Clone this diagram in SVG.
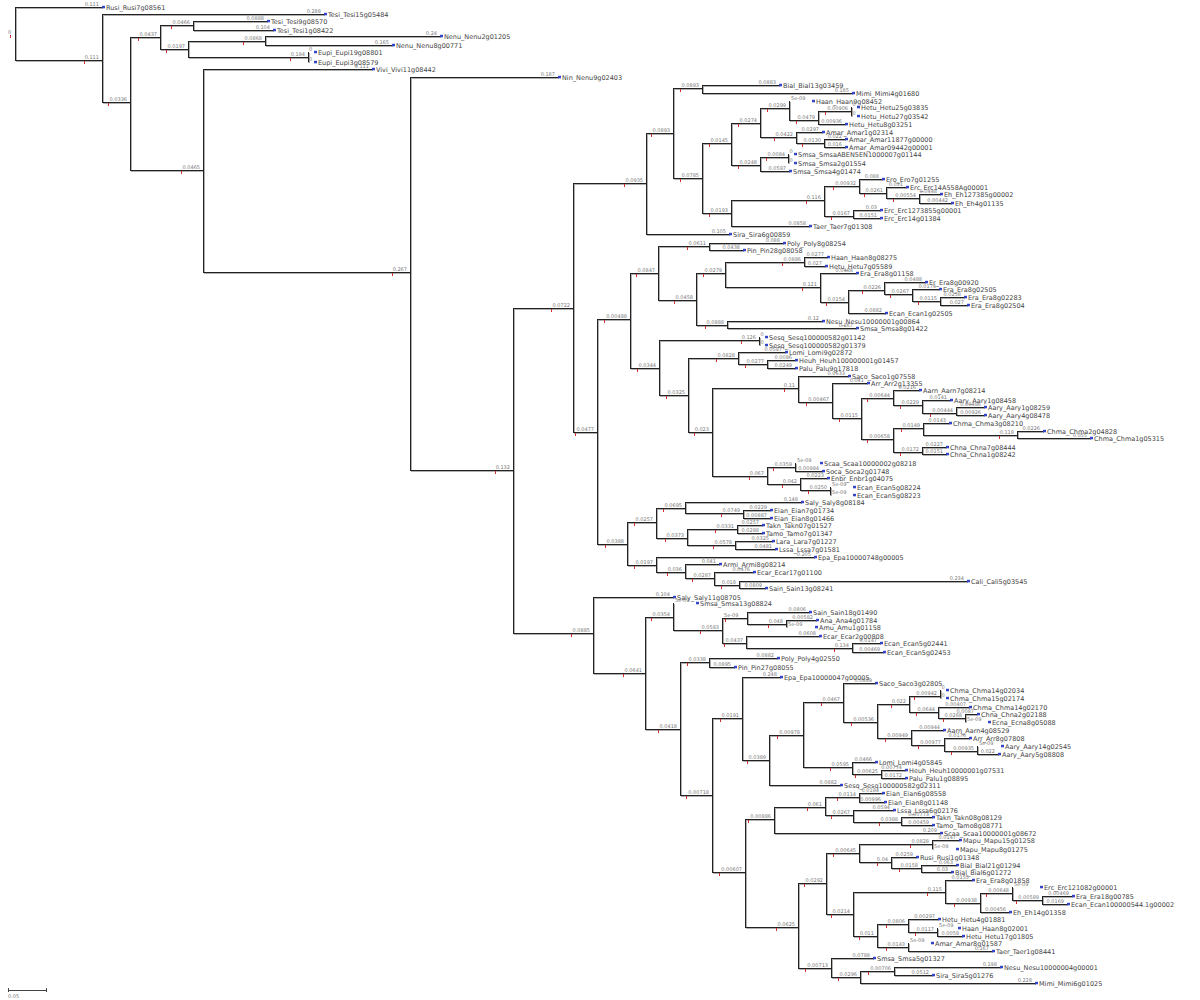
<svg xmlns="http://www.w3.org/2000/svg" xmlns:xlink="http://www.w3.org/1999/xlink" width="1200" height="1000" viewBox="0 0 1200 1000">
<style>
text{font-family:"DejaVu Sans","Liberation Sans",sans-serif}
.b{font-size:5px;fill:#777;text-anchor:end}
.z{font-size:5px;fill:#777}
.n{font-size:6.5px;fill:#444}
</style>
<defs>
<rect id="mk" width="3" height="2.5" fill="#3545c8"/>
<rect id="rt" width="1" height="3" fill="#d03030"/>
</defs>
<rect width="1200" height="1000" fill="#fff"/>
<g id="connectors" fill="none" shape-rendering="crispEdges">
<use href="#edges" transform="translate(1,1)" stroke="#b0b0b0" stroke-width="1.3"/>
<g stroke="#222" stroke-width="1">
<g id="edges">
<path d="M15 7V60M15 7H102M15 60H102M102 14V102M102 14H324M102 102H130M130 37V170M130 37H160M130 170H203M160 25V49M160 25H193M160 49H188M193 21V30M193 21H267M193 30H273M188 41V57M188 41H265M188 57H308M265 36V45M265 36H440M265 45H392M308 52V62M203 69V272M203 69H372M203 272H410M410 77V470M410 77H558M410 470H513M513 308V633M513 308H573M513 633H593M573 183V432M573 183H646M573 432H597"/>
<path d="M646 133V234M646 133H673M646 234H729M673 88V178M673 88H702M673 178H702M702 85V93M702 85H779M702 93H852M702 143V213M702 143H731M702 213H731M731 123V165M731 123H760M731 165H760M760 108V137M760 108H789M760 137H796M789 101V120M789 120H818M818 111V124M818 111H851M818 124H845M851 107V116M796 132V143M796 132H822M796 143H824M824 139V147M824 139H845M824 147H845M760 157V171M760 157H788M760 171H789M788 154V163M731 200V226M731 200H824M731 226H809M824 186V216M824 186H859M824 216H853M859 179V193M859 179H882M859 193H886M886 187V198M886 187H906M886 198H919M919 194V203M919 194H940M919 203H951M853 210V218M853 210H880M853 218H880"/>
<path d="M597 319V544M597 319H630M597 544H627M630 273V368M630 273H658M630 368H659M658 246V300M658 246H709M658 300H696M709 243V250M709 243H783M709 250H743M696 273V325M696 273H725M696 325H727M725 262V287M725 262H804M725 287H820M804 257V266M804 257H827M804 266H825M820 273V302M820 273H856M820 302H848M848 290V313M848 290H884M848 313H885M884 282V294M884 282H925M884 294H912M912 289V301M912 289H939M912 301H940M940 297V305M940 297H964M940 305H967M727 321V328M727 321H822M727 328H856M659 340V395M659 340H759M659 395H688M759 337V345M688 358V432M688 358H738M688 432H712M738 352V364M738 352H785M738 364H767M767 360V368M767 360H795M767 368H795M712 388V476M712 388H798M712 476H767M798 376V402M798 376H848M798 402H832M832 383V418M832 383H867M832 418H861M861 398V439M861 398H893M861 439H893M893 390V405M893 390H919M893 405H922M922 400V413M922 400H950M922 413H956M956 407V415M956 407H984M956 415H984M893 428V452M893 428H923M893 452H922M923 423V435M923 423H949M923 435H1017M1017 431V438M1017 431H1043M1017 438H1090M922 447V454M922 447H946M922 454H946M767 467V484M767 467H795M767 484H800M795 463V471M795 471H822M800 478V490M800 478H827M800 490H830M830 487V495"/>
<path d="M627 522V565M627 522H656M627 565H656M656 508V538M656 508H685M656 538H687M685 502V513M685 502H801M685 513H743M743 510V518M743 510H770M743 518H770M687 529V545M687 529H737M687 545H735M737 525V533M737 525H762M737 533H762M735 541V549M735 541H772M735 549H775M656 557V572M656 557H814M656 572H685M685 564V578M685 564H719M685 578H714M714 572V585M714 572H753M714 585H739M739 581V588M739 581H967M739 588H765"/>
<path d="M593 597V673M593 597H673M593 673H645M645 617V729M645 617H673M645 729H680M673 603V630M673 630H722M722 618V643M722 618H747M722 643H746M747 612V624M747 612H809M747 624H786M786 620V627M786 620H816M746 636V648M746 636H819M746 648H852M852 643V652M852 643H880M852 652H883M680 662V795M680 662H709M680 795H712M709 658V667M709 658H777M709 667H734"/>
<path d="M712 718V872M712 718H742M712 872H745M742 677V760M742 677H780M742 760H769M769 735V785M769 735H803M769 785H840M803 702V767M803 702H843M803 767H852M843 683V722M843 683H875M843 722H877M877 704V738M877 704H909M877 738H911M909 696V712M909 696H940M909 712H938M940 690V698M938 707V718M938 707H969M938 718H965M965 714V722M965 714H977M911 730V745M911 730H943M911 745H944M944 738V751M944 738H969M944 751H977M977 746V754M977 754H998M852 762V774M852 762H875M852 774H881M881 770V778M881 770H905M881 778H905"/>
<path d="M745 819V927M745 819H774M745 927H798M774 807V833M774 807H825M774 833H940M825 797V815M825 797H859M825 815H853M859 793V802M859 793H882M859 802H884M853 810V822M853 810H893M853 822H901M901 817V825M901 817H932M901 825H932M798 883V968M798 883H826M798 968H831M826 853V914M826 853H859M826 914H853M859 844V862M859 844H932M859 862H891M932 840V849M932 840H959M891 857V868M891 857H916M891 868H921M921 865V872M921 865H956M921 872H951M853 892V936M853 892H945M853 936H877M945 880V903M945 880H972M945 903H980M980 893V912M980 893H1012M980 912H1009M1012 887V900M1012 900H1042M1042 896V904M1042 896H1072M1042 904H1067M877 924V947M877 924H908M877 947H908M908 919V932M908 919H938M908 932H937M937 928V936M937 936H962M908 943V951M908 951H992M831 958V977M831 958H873M831 977H860M860 971V983M860 971H894M860 983H1035M894 967V975M894 967H1000M894 975H932"/>
</g>
</g>
</g>
<g id="nodes">
<g id="i0"><text class="z" x="8" y="34">0</text><use href="#rt" x="10" y="35"/></g>
<g id="i1"><text class="b" x="99" y="58.5">0.111</text><use href="#rt" x="84" y="61"/></g>
<g id="i2"><text class="b" x="127" y="100.5">0.0336</text><use href="#rt" x="108" y="103"/></g>
<g id="i3"><text class="b" x="157" y="35.5">0.0437</text><use href="#rt" x="138" y="38"/></g>
<g id="i4"><text class="b" x="200" y="168.5">0.0465</text><use href="#rt" x="181" y="171"/></g>
<g id="i5"><text class="b" x="190" y="23.5">0.0466</text><use href="#rt" x="171" y="26"/></g>
<g id="i6"><text class="b" x="185" y="47.5">0.0197</text><use href="#rt" x="166" y="50"/></g>
<g id="i7"><text class="b" x="262" y="39.5">0.0868</text><use href="#rt" x="243" y="42"/></g>
<g id="i8"><text class="b" x="305" y="55.5">0.194</text><use href="#rt" x="290" y="58"/></g>
<g id="i9"><text class="b" x="407" y="270.5">0.267</text><use href="#rt" x="392" y="273"/></g>
<g id="i10"><text class="b" x="510" y="468.5">0.132</text><use href="#rt" x="495" y="471"/></g>
<g id="i11"><text class="b" x="570" y="306.5">0.0722</text><use href="#rt" x="551" y="309"/></g>
<g id="i12"><text class="b" x="590" y="631.5">0.0885</text><use href="#rt" x="571" y="634"/></g>
<g id="i13"><text class="b" x="643" y="181.5">0.0935</text><use href="#rt" x="624" y="184"/></g>
<g id="i14"><text class="b" x="594" y="430.5">0.0477</text><use href="#rt" x="575" y="433"/></g>
<g id="i15"><text class="b" x="670" y="131.5">0.0893</text><use href="#rt" x="651" y="134"/></g>
<g id="i16"><text class="b" x="699" y="86.5">0.0893</text><use href="#rt" x="680" y="89"/></g>
<g id="i17"><text class="b" x="699" y="176.5">0.0785</text><use href="#rt" x="680" y="179"/></g>
<g id="i18"><text class="b" x="728" y="141.5">0.0145</text><use href="#rt" x="709" y="144"/></g>
<g id="i19"><text class="b" x="728" y="211.5">0.0193</text><use href="#rt" x="709" y="214"/></g>
<g id="i20"><text class="b" x="757" y="121.5">0.0274</text><use href="#rt" x="738" y="124"/></g>
<g id="i21"><text class="b" x="757" y="163.5">0.0248</text><use href="#rt" x="738" y="166"/></g>
<g id="i22"><text class="b" x="786" y="106.5">0.0299</text><use href="#rt" x="767" y="109"/></g>
<g id="i23"><text class="b" x="793" y="135.5">0.0422</text><use href="#rt" x="774" y="138"/></g>
<g id="i24"><text class="b" x="815" y="118.5">0.0479</text><use href="#rt" x="796" y="121"/></g>
<g id="i25"><text class="b" x="848" y="109.5">0.00906</text><use href="#rt" x="825" y="112"/></g>
<g id="i26"><text class="b" x="821" y="141.5">0.0130</text><use href="#rt" x="802" y="144"/></g>
<g id="i27"><text class="b" x="785" y="155.5">0.0084</text><use href="#rt" x="766" y="158"/></g>
<g id="i28"><text class="b" x="821" y="198.5">0.116</text><use href="#rt" x="806" y="201"/></g>
<g id="i29"><text class="b" x="856" y="184.5">0.00932</text><use href="#rt" x="833" y="187"/></g>
<g id="i30"><text class="b" x="850" y="214.5">0.0167</text><use href="#rt" x="831" y="217"/></g>
<g id="i31"><text class="b" x="883" y="191.5">0.0261</text><use href="#rt" x="864" y="194"/></g>
<g id="i32"><text class="b" x="916" y="196.5">0.00554</text><use href="#rt" x="893" y="199"/></g>
<g id="i33"><text class="b" x="627" y="317.5">0.00488</text><use href="#rt" x="604" y="320"/></g>
<g id="i34"><text class="b" x="624" y="542.5">0.0388</text><use href="#rt" x="605" y="545"/></g>
<g id="i35"><text class="b" x="655" y="271.5">0.0847</text><use href="#rt" x="636" y="274"/></g>
<g id="i36"><text class="b" x="656" y="366.5">0.0344</text><use href="#rt" x="637" y="369"/></g>
<g id="i37"><text class="b" x="706" y="244.5">0.0611</text><use href="#rt" x="687" y="247"/></g>
<g id="i38"><text class="b" x="693" y="298.5">0.0458</text><use href="#rt" x="674" y="301"/></g>
<g id="i39"><text class="b" x="722" y="271.5">0.0279</text><use href="#rt" x="703" y="274"/></g>
<g id="i40"><text class="b" x="724" y="323.5">0.0888</text><use href="#rt" x="705" y="326"/></g>
<g id="i41"><text class="b" x="801" y="260.5">0.0886</text><use href="#rt" x="782" y="263"/></g>
<g id="i42"><text class="b" x="817" y="285.5">0.121</text><use href="#rt" x="802" y="288"/></g>
<g id="i43"><text class="b" x="845" y="300.5">0.0154</text><use href="#rt" x="826" y="303"/></g>
<g id="i44"><text class="b" x="881" y="288.5">0.0226</text><use href="#rt" x="862" y="291"/></g>
<g id="i45"><text class="b" x="909" y="292.5">0.0267</text><use href="#rt" x="890" y="295"/></g>
<g id="i46"><text class="b" x="937" y="299.5">0.0115</text><use href="#rt" x="918" y="302"/></g>
<g id="i47"><text class="b" x="756" y="338.5">0.126</text><use href="#rt" x="741" y="341"/></g>
<g id="i48"><text class="b" x="685" y="393.5">0.0325</text><use href="#rt" x="666" y="396"/></g>
<g id="i49"><text class="b" x="735" y="356.5">0.0828</text><use href="#rt" x="716" y="359"/></g>
<g id="i50"><text class="b" x="709" y="430.5">0.023</text><use href="#rt" x="694" y="433"/></g>
<g id="i51"><text class="b" x="764" y="362.5">0.0277</text><use href="#rt" x="745" y="365"/></g>
<g id="i52"><text class="b" x="795" y="386.5">0.11</text><use href="#rt" x="784" y="389"/></g>
<g id="i53"><text class="b" x="764" y="474.5">0.067</text><use href="#rt" x="749" y="477"/></g>
<g id="i54"><text class="b" x="829" y="400.5">0.00467</text><use href="#rt" x="806" y="403"/></g>
<g id="i55"><text class="b" x="858" y="416.5">0.0115</text><use href="#rt" x="839" y="419"/></g>
<g id="i56"><text class="b" x="890" y="396.5">0.00644</text><use href="#rt" x="867" y="399"/></g>
<g id="i57"><text class="b" x="890" y="437.5">0.00658</text><use href="#rt" x="867" y="440"/></g>
<g id="i58"><text class="b" x="919" y="403.5">0.0229</text><use href="#rt" x="900" y="406"/></g>
<g id="i59"><text class="b" x="953" y="411.5">0.00444</text><use href="#rt" x="930" y="414"/></g>
<g id="i60"><text class="b" x="920" y="426.5">0.0149</text><use href="#rt" x="901" y="429"/></g>
<g id="i61"><text class="b" x="919" y="450.5">0.0172</text><use href="#rt" x="900" y="453"/></g>
<g id="i62"><text class="b" x="1014" y="433.5">0.118</text><use href="#rt" x="999" y="436"/></g>
<g id="i63"><text class="b" x="792" y="465.5">0.0359</text><use href="#rt" x="773" y="468"/></g>
<g id="i64"><text class="b" x="797" y="482.5">0.042</text><use href="#rt" x="782" y="485"/></g>
<g id="i65"><text class="b" x="827" y="488.5">0.0250</text><use href="#rt" x="808" y="491"/></g>
<g id="i66"><text class="b" x="653" y="520.5">0.0257</text><use href="#rt" x="634" y="523"/></g>
<g id="i67"><text class="b" x="653" y="563.5">0.0197</text><use href="#rt" x="634" y="566"/></g>
<g id="i68"><text class="b" x="682" y="506.5">0.0695</text><use href="#rt" x="663" y="509"/></g>
<g id="i69"><text class="b" x="684" y="536.5">0.0373</text><use href="#rt" x="665" y="539"/></g>
<g id="i70"><text class="b" x="740" y="511.5">0.0749</text><use href="#rt" x="721" y="514"/></g>
<g id="i71"><text class="b" x="734" y="527.5">0.0331</text><use href="#rt" x="715" y="530"/></g>
<g id="i72"><text class="b" x="732" y="543.5">0.0578</text><use href="#rt" x="713" y="546"/></g>
<g id="i73"><text class="b" x="682" y="570.5">0.036</text><use href="#rt" x="667" y="573"/></g>
<g id="i74"><text class="b" x="711" y="576.5">0.0287</text><use href="#rt" x="692" y="579"/></g>
<g id="i75"><text class="b" x="736" y="583.5">0.018</text><use href="#rt" x="721" y="586"/></g>
<g id="i76"><text class="b" x="642" y="671.5">0.0641</text><use href="#rt" x="623" y="674"/></g>
<g id="i77"><text class="b" x="670" y="615.5">0.0354</text><use href="#rt" x="651" y="618"/></g>
<g id="i78"><text class="b" x="677" y="727.5">0.0418</text><use href="#rt" x="658" y="730"/></g>
<g id="i79"><text class="b" x="719" y="628.5">0.0583</text><use href="#rt" x="700" y="631"/></g>
<g id="i80"><text class="z" x="724" y="616.5">5e-09</text><use href="#rt" x="725" y="619"/></g>
<g id="i81"><text class="b" x="743" y="641.5">0.0437</text><use href="#rt" x="724" y="644"/></g>
<g id="i82"><text class="b" x="783" y="622.5">0.048</text><use href="#rt" x="768" y="625"/></g>
<g id="i83"><text class="b" x="849" y="646.5">0.134</text><use href="#rt" x="834" y="649"/></g>
<g id="i84"><text class="b" x="706" y="660.5">0.0338</text><use href="#rt" x="687" y="663"/></g>
<g id="i85"><text class="b" x="709" y="793.5">0.00718</text><use href="#rt" x="686" y="796"/></g>
<g id="i86"><text class="b" x="739" y="716.5">0.0191</text><use href="#rt" x="720" y="719"/></g>
<g id="i87"><text class="b" x="742" y="870.5">0.00607</text><use href="#rt" x="719" y="873"/></g>
<g id="i88"><text class="b" x="766" y="758.5">0.0389</text><use href="#rt" x="747" y="761"/></g>
<g id="i89"><text class="b" x="800" y="733.5">0.00978</text><use href="#rt" x="777" y="736"/></g>
<g id="i90"><text class="b" x="840" y="700.5">0.0467</text><use href="#rt" x="821" y="703"/></g>
<g id="i91"><text class="b" x="849" y="765.5">0.0595</text><use href="#rt" x="830" y="768"/></g>
<g id="i92"><text class="b" x="874" y="720.5">0.00536</text><use href="#rt" x="851" y="723"/></g>
<g id="i93"><text class="b" x="906" y="702.5">0.022</text><use href="#rt" x="891" y="705"/></g>
<g id="i94"><text class="b" x="908" y="736.5">0.00949</text><use href="#rt" x="885" y="739"/></g>
<g id="i95"><text class="b" x="937" y="694.5">0.00942</text><use href="#rt" x="914" y="697"/></g>
<g id="i96"><text class="b" x="935" y="710.5">0.0644</text><use href="#rt" x="916" y="713"/></g>
<g id="i97"><text class="b" x="962" y="716.5">0.0268</text><use href="#rt" x="943" y="719"/></g>
<g id="i98"><text class="b" x="941" y="743.5">0.00977</text><use href="#rt" x="918" y="746"/></g>
<g id="i99"><text class="b" x="974" y="749.5">0.00935</text><use href="#rt" x="951" y="752"/></g>
<g id="i100"><text class="b" x="878" y="772.5">0.00625</text><use href="#rt" x="855" y="775"/></g>
<g id="i101"><text class="b" x="771" y="817.5">0.00886</text><use href="#rt" x="748" y="820"/></g>
<g id="i102"><text class="b" x="795" y="925.5">0.0625</text><use href="#rt" x="776" y="928"/></g>
<g id="i103"><text class="b" x="822" y="805.5">0.061</text><use href="#rt" x="807" y="808"/></g>
<g id="i104"><text class="b" x="856" y="795.5">0.0114</text><use href="#rt" x="837" y="798"/></g>
<g id="i105"><text class="b" x="850" y="813.5">0.0267</text><use href="#rt" x="831" y="816"/></g>
<g id="i106"><text class="b" x="898" y="820.5">0.0388</text><use href="#rt" x="879" y="823"/></g>
<g id="i107"><text class="b" x="823" y="881.5">0.0292</text><use href="#rt" x="804" y="884"/></g>
<g id="i108"><text class="b" x="828" y="966.5">0.00713</text><use href="#rt" x="805" y="969"/></g>
<g id="i109"><text class="b" x="856" y="851.5">0.00645</text><use href="#rt" x="833" y="854"/></g>
<g id="i110"><text class="b" x="850" y="912.5">0.0214</text><use href="#rt" x="831" y="915"/></g>
<g id="i111"><text class="b" x="929" y="842.5">0.0828</text><use href="#rt" x="910" y="845"/></g>
<g id="i112"><text class="b" x="888" y="860.5">0.04</text><use href="#rt" x="877" y="863"/></g>
<g id="i113"><text class="b" x="918" y="866.5">0.0158</text><use href="#rt" x="899" y="869"/></g>
<g id="i114"><text class="b" x="942" y="890.5">0.115</text><use href="#rt" x="927" y="893"/></g>
<g id="i115"><text class="b" x="874" y="934.5">0.011</text><use href="#rt" x="859" y="937"/></g>
<g id="i116"><text class="b" x="977" y="901.5">0.00938</text><use href="#rt" x="954" y="904"/></g>
<g id="i117"><text class="b" x="1009" y="891.5">0.00648</text><use href="#rt" x="986" y="894"/></g>
<g id="i118"><text class="b" x="1039" y="898.5">0.00589</text><use href="#rt" x="1016" y="901"/></g>
<g id="i119"><text class="b" x="905" y="922.5">0.0806</text><use href="#rt" x="886" y="925"/></g>
<g id="i120"><text class="b" x="905" y="945.5">0.0143</text><use href="#rt" x="886" y="948"/></g>
<g id="i121"><text class="b" x="934" y="930.5">0.0117</text><use href="#rt" x="915" y="933"/></g>
<g id="i122"><text class="b" x="857" y="975.5">0.0296</text><use href="#rt" x="838" y="978"/></g>
<g id="i123"><text class="b" x="891" y="969.5">0.00706</text><use href="#rt" x="868" y="972"/></g>
</g>
<g id="leaves">
<g id="t1"><text class="b" x="99" y="5.5">0.111</text><use href="#mk" x="102" y="5.8"/><text class="n" x="106" y="9.5">Rusi_Rusi7g08561</text></g>
<g id="t2"><text class="b" x="321" y="12.5">0.288</text><use href="#mk" x="324" y="12.8"/><text class="n" x="328" y="16.5">Tesi_Tesi15g05484</text></g>
<g id="t3"><text class="b" x="264" y="19.5">0.0888</text><use href="#mk" x="267" y="19.8"/><text class="n" x="271" y="23.5">Tesi_Tesi9g08570</text></g>
<g id="t4"><text class="b" x="270" y="28.5">0.104</text><use href="#mk" x="273" y="28.8"/><text class="n" x="277" y="32.5">Tesi_Tesi1g08422</text></g>
<g id="t5"><text class="b" x="437" y="34.5">0.24</text><use href="#mk" x="440" y="34.8"/><text class="n" x="444" y="38.5">Nenu_Nenu2g01205</text></g>
<g id="t6"><text class="b" x="389" y="43.5">0.165</text><use href="#mk" x="392" y="43.8"/><text class="n" x="396" y="47.5">Nenu_Nenu8g00771</text></g>
<g id="t7"><text class="z" x="309" y="50.5">0</text><use href="#mk" x="314" y="50.8"/><text class="n" x="318" y="54.5">Eupi_Eupi19g08801</text></g>
<g id="t8"><text class="z" x="309" y="60.5">0</text><use href="#mk" x="314" y="60.8"/><text class="n" x="318" y="64.5">Eupi_Eupi3g08579</text></g>
<g id="t9"><text class="b" x="369" y="67.5">0.111</text><use href="#mk" x="372" y="67.8"/><text class="n" x="376" y="71.5">Vivi_Vivi11g08442</text></g>
<g id="t10"><text class="b" x="555" y="75.5">0.187</text><use href="#mk" x="558" y="75.8"/><text class="n" x="562" y="79.5">Nin_Nenu9g02403</text></g>
<g id="t11"><text class="b" x="776" y="83.5">0.0883</text><use href="#mk" x="779" y="83.8"/><text class="n" x="783" y="87.5">Bial_Bial13g03459</text></g>
<g id="t12"><text class="b" x="849" y="91.5">0.185</text><use href="#mk" x="852" y="91.8"/><text class="n" x="856" y="95.5">Mimi_Mimi4g01680</text></g>
<g id="t13"><text class="z" x="791" y="99.5">5e-09</text><use href="#mk" x="812" y="99.8"/><text class="n" x="816" y="103.5">Haan_Haan9g08452</text></g>
<g id="t14"><text class="z" x="852.5" y="105.5">0</text><use href="#mk" x="857" y="105.8"/><text class="n" x="861" y="109.5">Hetu_Hetu25g03835</text></g>
<g id="t15"><text class="z" x="852.5" y="114.5">0</text><use href="#mk" x="857" y="114.8"/><text class="n" x="861" y="118.5">Hetu_Hetu27g03542</text></g>
<g id="t16"><text class="b" x="842" y="122.5">0.00936</text><use href="#mk" x="845" y="122.8"/><text class="n" x="849" y="126.5">Hetu_Hetu8g03251</text></g>
<g id="t17"><text class="b" x="819" y="130.5">0.0297</text><use href="#mk" x="822" y="130.8"/><text class="n" x="826" y="134.5">Amar_Amar1g02314</text></g>
<g id="t18"><text class="b" x="842" y="137.5">0.022</text><use href="#mk" x="845" y="137.8"/><text class="n" x="849" y="141.5">Amar_Amar11877g00000</text></g>
<g id="t19"><text class="b" x="842" y="145.5">0.016</text><use href="#mk" x="845" y="145.8"/><text class="n" x="849" y="149.5">Amar_Amar09442g00001</text></g>
<g id="t20"><text class="z" x="789.5" y="152.5">0</text><use href="#mk" x="794" y="152.8"/><text class="n" x="798" y="156.5">Smsa_SmsaABEN5EN1000007g01144</text></g>
<g id="t21"><text class="z" x="789.5" y="161.5">0</text><use href="#mk" x="794" y="161.8"/><text class="n" x="798" y="165.5">Smsa_Smsa2g01554</text></g>
<g id="t22"><text class="b" x="786" y="169.5">0.0597</text><use href="#mk" x="789" y="169.8"/><text class="n" x="793" y="173.5">Smsa_Smsa4g01474</text></g>
<g id="t23"><text class="b" x="879" y="177.5">0.088</text><use href="#mk" x="882" y="177.8"/><text class="n" x="886" y="181.5">Ero_Ero7g01255</text></g>
<g id="t24"><text class="b" x="903" y="185.5">0.031</text><use href="#mk" x="906" y="185.8"/><text class="n" x="910" y="189.5">Erc_Erc14A558Ag00001</text></g>
<g id="t25"><text class="b" x="937" y="192.5">0.0448</text><use href="#mk" x="940" y="192.8"/><text class="n" x="944" y="196.5">Eh_Eh127385g00002</text></g>
<g id="t26"><text class="b" x="948" y="201.5">0.00442</text><use href="#mk" x="951" y="201.8"/><text class="n" x="955" y="205.5">Eh_Eh4g01135</text></g>
<g id="t27"><text class="b" x="877" y="208.5">0.03</text><use href="#mk" x="880" y="208.8"/><text class="n" x="884" y="212.5">Erc_Erc1273855g00001</text></g>
<g id="t28"><text class="b" x="877" y="216.5">0.0151</text><use href="#mk" x="880" y="216.8"/><text class="n" x="884" y="220.5">Erc_Erc14g01384</text></g>
<g id="t29"><text class="b" x="806" y="224.5">0.0858</text><use href="#mk" x="809" y="224.8"/><text class="n" x="813" y="228.5">Taer_Taer7g01308</text></g>
<g id="t30"><text class="b" x="726" y="232.5">0.105</text><use href="#mk" x="729" y="232.8"/><text class="n" x="733" y="236.5">Sira_Sira6g00859</text></g>
<g id="t31"><text class="b" x="780" y="241.5">0.088</text><use href="#mk" x="783" y="241.8"/><text class="n" x="787" y="245.5">Poly_Poly8g08254</text></g>
<g id="t32"><text class="b" x="740" y="248.5">0.0438</text><use href="#mk" x="743" y="248.8"/><text class="n" x="747" y="252.5">Pin_Pin28g08058</text></g>
<g id="t33"><text class="b" x="824" y="255.5">0.0277</text><use href="#mk" x="827" y="255.8"/><text class="n" x="831" y="259.5">Haan_Haan8g08275</text></g>
<g id="t34"><text class="b" x="822" y="264.5">0.027</text><use href="#mk" x="825" y="264.8"/><text class="n" x="829" y="268.5">Hetu_Hetu7g05589</text></g>
<g id="t35"><text class="b" x="853" y="271.5">0.0488</text><use href="#mk" x="856" y="271.8"/><text class="n" x="860" y="275.5">Era_Era8g01158</text></g>
<g id="t36"><text class="b" x="922" y="280.5">0.0488</text><use href="#mk" x="925" y="280.8"/><text class="n" x="929" y="284.5">Er_Era8g00920</text></g>
<g id="t37"><text class="b" x="936" y="287.5">0.0174</text><use href="#mk" x="939" y="287.8"/><text class="n" x="943" y="291.5">Era_Era8g02505</text></g>
<g id="t38"><text class="b" x="961" y="295.5">0.0258</text><use href="#mk" x="964" y="295.8"/><text class="n" x="968" y="299.5">Era_Era8g02283</text></g>
<g id="t39"><text class="b" x="964" y="303.5">0.027</text><use href="#mk" x="967" y="303.8"/><text class="n" x="971" y="307.5">Era_Era8g02504</text></g>
<g id="t40"><text class="b" x="882" y="311.5">0.0882</text><use href="#mk" x="885" y="311.8"/><text class="n" x="889" y="315.5">Ecan_Ecan1g02505</text></g>
<g id="t41"><text class="b" x="819" y="319.5">0.12</text><use href="#mk" x="822" y="319.8"/><text class="n" x="826" y="323.5">Nesu_Nesu10000001g00864</text></g>
<g id="t42"><text class="b" x="853" y="326.5">0.167</text><use href="#mk" x="856" y="326.8"/><text class="n" x="860" y="330.5">Smsa_Smsa8g01422</text></g>
<g id="t43"><text class="z" x="760.5" y="335.5">0</text><use href="#mk" x="765" y="335.8"/><text class="n" x="769" y="339.5">Sesq_Sesq100000582g01142</text></g>
<g id="t44"><text class="z" x="760.5" y="343.5">0</text><use href="#mk" x="765" y="343.8"/><text class="n" x="769" y="347.5">Sesq_Sesq100000582g01379</text></g>
<g id="t45"><text class="b" x="782" y="350.5">0.0587</text><use href="#mk" x="785" y="350.8"/><text class="n" x="789" y="354.5">Lomi_Lomi9g02872</text></g>
<g id="t46"><text class="b" x="792" y="358.5">0.0086</text><use href="#mk" x="795" y="358.8"/><text class="n" x="799" y="362.5">Heuh_Heuh100000001g01457</text></g>
<g id="t47"><text class="b" x="792" y="366.5">0.0249</text><use href="#mk" x="795" y="366.8"/><text class="n" x="799" y="370.5">Palu_Palu9g17818</text></g>
<g id="t48"><text class="b" x="845" y="374.5">0.0633</text><use href="#mk" x="848" y="374.8"/><text class="n" x="852" y="378.5">Saco_Saco1g07558</text></g>
<g id="t49"><text class="b" x="864" y="381.5">0.041</text><use href="#mk" x="867" y="381.8"/><text class="n" x="871" y="385.5">Arr_Arr2g13355</text></g>
<g id="t50"><text class="b" x="916" y="388.5">0.0216</text><use href="#mk" x="919" y="388.8"/><text class="n" x="923" y="392.5">Aarn_Aarn7g08214</text></g>
<g id="t51"><text class="b" x="947" y="398.5">0.0141</text><use href="#mk" x="950" y="398.8"/><text class="n" x="954" y="402.5">Aary_Aary1g08458</text></g>
<g id="t52"><text class="b" x="981" y="405.5">0.00486</text><use href="#mk" x="984" y="405.8"/><text class="n" x="988" y="409.5">Aary_Aary1g08259</text></g>
<g id="t53"><text class="b" x="981" y="413.5">0.00926</text><use href="#mk" x="984" y="413.8"/><text class="n" x="988" y="417.5">Aary_Aary4g08478</text></g>
<g id="t54"><text class="b" x="946" y="421.5">0.0143</text><use href="#mk" x="949" y="421.8"/><text class="n" x="953" y="425.5">Chma_Chma3g08210</text></g>
<g id="t55"><text class="b" x="1040" y="429.5">0.0226</text><use href="#mk" x="1043" y="429.8"/><text class="n" x="1047" y="433.5">Chma_Chma2g04828</text></g>
<g id="t56"><text class="b" x="1087" y="436.5">0.055</text><use href="#mk" x="1090" y="436.8"/><text class="n" x="1094" y="440.5">Chma_Chma1g05315</text></g>
<g id="t57"><text class="b" x="943" y="445.5">0.0227</text><use href="#mk" x="946" y="445.8"/><text class="n" x="950" y="449.5">Chna_Chna7g08444</text></g>
<g id="t58"><text class="b" x="943" y="452.5">0.0151</text><use href="#mk" x="946" y="452.8"/><text class="n" x="950" y="456.5">Chna_Chna1g08242</text></g>
<g id="t59"><text class="z" x="797" y="461.5">5e-09</text><use href="#mk" x="820" y="461.8"/><text class="n" x="824" y="465.5">Scaa_Scaa10000002g08218</text></g>
<g id="t60"><text class="b" x="819" y="469.5">0.00984</text><use href="#mk" x="822" y="469.8"/><text class="n" x="826" y="473.5">Soca_Soca2g01748</text></g>
<g id="t61"><text class="b" x="824" y="476.5">0.0223</text><use href="#mk" x="827" y="476.8"/><text class="n" x="831" y="480.5">Enbr_Enbr1g04075</text></g>
<g id="t62"><text class="z" x="832" y="485.5">5e-09</text><use href="#mk" x="853" y="485.8"/><text class="n" x="857" y="489.5">Ecan_Ecan5g08224</text></g>
<g id="t63"><text class="z" x="832" y="493.5">5e-09</text><use href="#mk" x="853" y="493.8"/><text class="n" x="857" y="497.5">Ecan_Ecan5g08223</text></g>
<g id="t64"><text class="b" x="798" y="500.5">0.148</text><use href="#mk" x="801" y="500.8"/><text class="n" x="805" y="504.5">Saly_Saly8g08184</text></g>
<g id="t65"><text class="b" x="767" y="508.5">0.0229</text><use href="#mk" x="770" y="508.8"/><text class="n" x="774" y="512.5">Eian_Eian7g01734</text></g>
<g id="t66"><text class="b" x="767" y="516.5">0.00887</text><use href="#mk" x="770" y="516.8"/><text class="n" x="774" y="520.5">Eian_Eian8g01466</text></g>
<g id="t67"><text class="b" x="759" y="523.5">0.0257</text><use href="#mk" x="762" y="523.8"/><text class="n" x="766" y="527.5">Takn_Takn07g01527</text></g>
<g id="t68"><text class="b" x="759" y="531.5">0.0288</text><use href="#mk" x="762" y="531.8"/><text class="n" x="766" y="535.5">Tamo_Tamo7g01347</text></g>
<g id="t69"><text class="b" x="769" y="539.5">0.0325</text><use href="#mk" x="772" y="539.8"/><text class="n" x="776" y="543.5">Lara_Lara7g01227</text></g>
<g id="t70"><text class="b" x="772" y="547.5">0.0481</text><use href="#mk" x="775" y="547.8"/><text class="n" x="779" y="551.5">Lssa_Lssa7g01581</text></g>
<g id="t71"><text class="b" x="811" y="555.5">0.205</text><use href="#mk" x="814" y="555.8"/><text class="n" x="818" y="559.5">Epa_Epa10000748g00005</text></g>
<g id="t72"><text class="b" x="716" y="562.5">0.041</text><use href="#mk" x="719" y="562.8"/><text class="n" x="723" y="566.5">Armi_Armi8g08214</text></g>
<g id="t73"><text class="b" x="750" y="570.5">0.0476</text><use href="#mk" x="753" y="570.8"/><text class="n" x="757" y="574.5">Ecar_Ecar17g01100</text></g>
<g id="t74"><text class="b" x="964" y="579.5">0.234</text><use href="#mk" x="967" y="579.8"/><text class="n" x="971" y="583.5">Cali_Cali5g03545</text></g>
<g id="t75"><text class="b" x="762" y="586.5">0.0809</text><use href="#mk" x="765" y="586.8"/><text class="n" x="769" y="590.5">Sain_Sain13g08241</text></g>
<g id="t76"><text class="b" x="670" y="595.5">0.104</text><use href="#mk" x="673" y="595.8"/><text class="n" x="677" y="599.5">Saly_Saly11g08705</text></g>
<g id="t77"><text class="z" x="675" y="601.5">5e-09</text><use href="#mk" x="696" y="601.8"/><text class="n" x="700" y="605.5">Smsa_Smsa13g08824</text></g>
<g id="t78"><text class="b" x="806" y="610.5">0.0806</text><use href="#mk" x="809" y="610.8"/><text class="n" x="813" y="614.5">Sain_Sain18g01490</text></g>
<g id="t79"><text class="b" x="813" y="618.5">0.00582</text><use href="#mk" x="816" y="618.8"/><text class="n" x="820" y="622.5">Ana_Ana4g01784</text></g>
<g id="t80"><text class="z" x="788" y="625.5">5e-09</text><use href="#mk" x="815" y="625.8"/><text class="n" x="819" y="629.5">Amu_Amu1g01158</text></g>
<g id="t81"><text class="b" x="816" y="634.5">0.0608</text><use href="#mk" x="819" y="634.8"/><text class="n" x="823" y="638.5">Ecar_Ecar2g00808</text></g>
<g id="t82"><text class="b" x="877" y="641.5">0.0147</text><use href="#mk" x="880" y="641.8"/><text class="n" x="884" y="645.5">Ecan_Ecan5g02441</text></g>
<g id="t83"><text class="b" x="880" y="650.5">0.00469</text><use href="#mk" x="883" y="650.8"/><text class="n" x="887" y="654.5">Ecan_Ecan5g02453</text></g>
<g id="t84"><text class="b" x="774" y="656.5">0.0882</text><use href="#mk" x="777" y="656.8"/><text class="n" x="781" y="660.5">Poly_Poly4g02550</text></g>
<g id="t85"><text class="b" x="731" y="665.5">0.0895</text><use href="#mk" x="734" y="665.8"/><text class="n" x="738" y="669.5">Pin_Pin27g08055</text></g>
<g id="t86"><text class="b" x="777" y="675.5">0.248</text><use href="#mk" x="780" y="675.8"/><text class="n" x="784" y="679.5">Epa_Epa10000047g00005</text></g>
<g id="t87"><text class="b" x="872" y="681.5">0.0889</text><use href="#mk" x="875" y="681.8"/><text class="n" x="879" y="685.5">Saco_Saco3g02805</text></g>
<g id="t88"><text class="z" x="941.5" y="688.5">0</text><use href="#mk" x="946" y="688.8"/><text class="n" x="950" y="692.5">Chma_Chma14g02034</text></g>
<g id="t89"><text class="z" x="941.5" y="696.5">0</text><use href="#mk" x="946" y="696.8"/><text class="n" x="950" y="700.5">Chma_Chma15g02174</text></g>
<g id="t90"><text class="b" x="966" y="705.5">0.00407</text><use href="#mk" x="969" y="705.8"/><text class="n" x="973" y="709.5">Chma_Chma14g02170</text></g>
<g id="t91"><text class="b" x="974" y="712.5">0.0087</text><use href="#mk" x="977" y="712.8"/><text class="n" x="981" y="716.5">Chna_Chna2g02188</text></g>
<g id="t92"><text class="z" x="967" y="720.5">5e-09</text><use href="#mk" x="988" y="720.8"/><text class="n" x="992" y="724.5">Ecna_Ecna8g05088</text></g>
<g id="t93"><text class="b" x="940" y="728.5">0.00944</text><use href="#mk" x="943" y="728.8"/><text class="n" x="947" y="732.5">Aarn_Aarn4g08529</text></g>
<g id="t94"><text class="b" x="966" y="736.5">0.0176</text><use href="#mk" x="969" y="736.8"/><text class="n" x="973" y="740.5">Arr_Arr8g07808</text></g>
<g id="t95"><text class="z" x="979" y="744.5">5e-09</text><use href="#mk" x="1001" y="744.8"/><text class="n" x="1005" y="748.5">Aary_Aary14g02545</text></g>
<g id="t96"><text class="b" x="995" y="752.5">0.022</text><use href="#mk" x="998" y="752.8"/><text class="n" x="1002" y="756.5">Aary_Aary5g08808</text></g>
<g id="t97"><text class="b" x="872" y="760.5">0.0466</text><use href="#mk" x="875" y="760.8"/><text class="n" x="879" y="764.5">Lomi_Lomi4g05845</text></g>
<g id="t98"><text class="b" x="902" y="768.5">0.00774</text><use href="#mk" x="905" y="768.8"/><text class="n" x="909" y="772.5">Heuh_Heuh10000001g07531</text></g>
<g id="t99"><text class="b" x="902" y="776.5">0.0172</text><use href="#mk" x="905" y="776.8"/><text class="n" x="909" y="780.5">Palu_Palu1g08895</text></g>
<g id="t100"><text class="b" x="837" y="783.5">0.0882</text><use href="#mk" x="840" y="783.8"/><text class="n" x="844" y="787.5">Sesq_Sesq100000582g02311</text></g>
<g id="t101"><text class="b" x="879" y="791.5">0.0184</text><use href="#mk" x="882" y="791.8"/><text class="n" x="886" y="795.5">Eian_Eian6g08558</text></g>
<g id="t102"><text class="b" x="881" y="800.5">0.00996</text><use href="#mk" x="884" y="800.8"/><text class="n" x="888" y="804.5">Eian_Eian8g01148</text></g>
<g id="t103"><text class="b" x="890" y="808.5">0.0594</text><use href="#mk" x="893" y="808.8"/><text class="n" x="897" y="812.5">Lssa_Lssa6g02176</text></g>
<g id="t104"><text class="b" x="929" y="815.5">0.00773</text><use href="#mk" x="932" y="815.8"/><text class="n" x="936" y="819.5">Takn_Takn08g08129</text></g>
<g id="t105"><text class="b" x="929" y="823.5">0.00459</text><use href="#mk" x="932" y="823.8"/><text class="n" x="936" y="827.5">Tamo_Tamo8g08771</text></g>
<g id="t106"><text class="b" x="937" y="831.5">0.209</text><use href="#mk" x="940" y="831.8"/><text class="n" x="944" y="835.5">Scaa_Scaa10000001g08672</text></g>
<g id="t107"><text class="b" x="956" y="838.5">0.0147</text><use href="#mk" x="959" y="838.8"/><text class="n" x="963" y="842.5">Mapu_Mapu15g01258</text></g>
<g id="t108"><text class="z" x="934" y="847.5">5e-09</text><use href="#mk" x="956" y="847.8"/><text class="n" x="960" y="851.5">Mapu_Mapu8g01275</text></g>
<g id="t109"><text class="b" x="913" y="855.5">0.0259</text><use href="#mk" x="916" y="855.8"/><text class="n" x="920" y="859.5">Rusi_Rusi1g01348</text></g>
<g id="t110"><text class="b" x="953" y="863.5">0.063</text><use href="#mk" x="956" y="863.8"/><text class="n" x="960" y="867.5">Bial_Bial21g01294</text></g>
<g id="t111"><text class="b" x="948" y="870.5">0.03</text><use href="#mk" x="951" y="870.8"/><text class="n" x="955" y="874.5">Bial_Bial6g01272</text></g>
<g id="t112"><text class="b" x="969" y="878.5">0.0155</text><use href="#mk" x="972" y="878.8"/><text class="n" x="976" y="882.5">Era_Era8g01858</text></g>
<g id="t113"><text class="z" x="1014" y="885.5">5e-09</text><use href="#mk" x="1040" y="885.8"/><text class="n" x="1044" y="889.5">Erc_Erc121082g00001</text></g>
<g id="t114"><text class="b" x="1069" y="894.5">0.00469</text><use href="#mk" x="1072" y="894.8"/><text class="n" x="1076" y="898.5">Era_Era18g00785</text></g>
<g id="t115"><text class="b" x="1064" y="902.5">0.0169</text><use href="#mk" x="1067" y="902.8"/><text class="n" x="1071" y="906.5">Ecan_Ecan100000544.1g00002</text></g>
<g id="t116"><text class="b" x="1006" y="910.5">0.00456</text><use href="#mk" x="1009" y="910.8"/><text class="n" x="1013" y="914.5">Eh_Eh14g01358</text></g>
<g id="t117"><text class="b" x="935" y="917.5">0.00297</text><use href="#mk" x="938" y="917.8"/><text class="n" x="942" y="921.5">Hetu_Hetu4g01881</text></g>
<g id="t118"><text class="z" x="939" y="926.5">5e-09</text><use href="#mk" x="958" y="926.8"/><text class="n" x="962" y="930.5">Haan_Haan8g02001</text></g>
<g id="t119"><text class="b" x="959" y="934.5">0.0059</text><use href="#mk" x="962" y="934.8"/><text class="n" x="966" y="938.5">Hetu_Hetu17g01805</text></g>
<g id="t120"><text class="z" x="910" y="941.5">5e-09</text><use href="#mk" x="931" y="941.8"/><text class="n" x="935" y="945.5">Amar_Amar8g01587</text></g>
<g id="t121"><text class="b" x="989" y="949.5">0.167</text><use href="#mk" x="992" y="949.8"/><text class="n" x="996" y="953.5">Taer_Taer1g08441</text></g>
<g id="t122"><text class="b" x="870" y="956.5">0.0788</text><use href="#mk" x="873" y="956.8"/><text class="n" x="877" y="960.5">Smsa_Smsa5g01327</text></g>
<g id="t123"><text class="b" x="997" y="965.5">0.198</text><use href="#mk" x="1000" y="965.8"/><text class="n" x="1004" y="969.5">Nesu_Nesu10000004g00001</text></g>
<g id="t124"><text class="b" x="929" y="973.5">0.0512</text><use href="#mk" x="932" y="973.8"/><text class="n" x="936" y="977.5">Sira_Sira5g01276</text></g>
<g id="t125"><text class="b" x="1032" y="981.5">0.228</text><use href="#mk" x="1035" y="981.8"/><text class="n" x="1039" y="985.5">Mimi_Mimi6g01025</text></g>
</g>
<g id="scale">
<path d="M8 990H46M8 988V992M46 988V992" stroke="#444" stroke-width="1" fill="none" shape-rendering="crispEdges"/>
<text class="z" x="8" y="998">0.05</text>
</g>
</svg>
